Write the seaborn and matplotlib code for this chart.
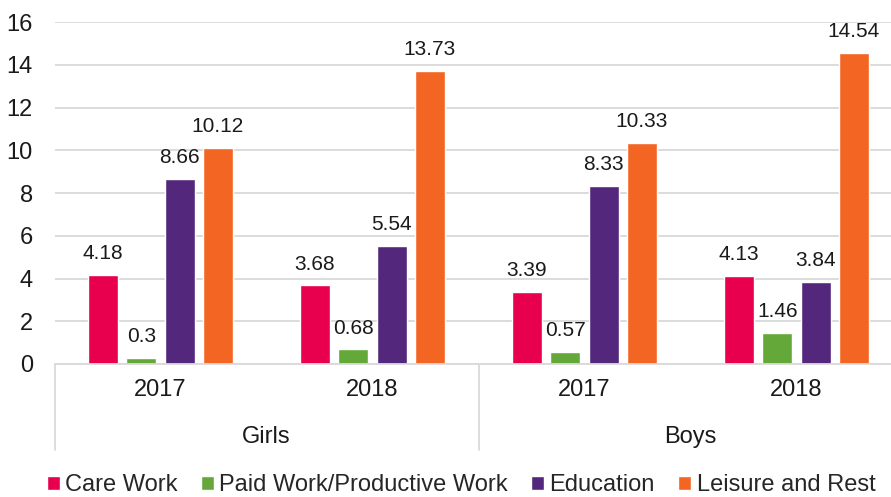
import matplotlib
matplotlib.use("Agg")
import matplotlib.pyplot as plt
import seaborn as sns
import pandas as pd
from matplotlib.lines import Line2D
from matplotlib.patches import Patch

genders = ["Girls", "Boys"]
years = ["2017", "2018"]
activities = ["Care Work", "Paid Work/Productive Work", "Education", "Leisure and Rest"]
care = [4.18, 3.68, 3.39, 4.13]
paid = [0.3, 0.68, 0.57, 1.46]
education = [8.66, 5.54, 8.33, 3.84]
leisure = [10.12, 13.73, 10.33, 14.54]
colors = ["#E8004F", "#63A838", "#53287C", "#F26522"]

groups = [f"{g}-{y}" for g in genders for y in years]
rows = []
for name, vals in zip(activities, [care, paid, education, leisure]):
    for grp, v in zip(groups, vals):
        rows.append({"group": grp, "activity": name, "value": v})
df = pd.DataFrame(rows)

sns.set_theme(style="white")
plt.rcParams["font.family"] = ["Liberation Sans", "DejaVu Sans"]

W, H = 891, 497
fig = plt.figure(figsize=(W/100, H/100), dpi=100)
ax_left, ax_right = 54.5, 902.5
ax = fig.add_axes([ax_left/W, 1-364/H, (ax_right-ax_left)/W, (364-22)/H])

sns.barplot(data=df, x="group", y="value", hue="activity", order=groups,
            hue_order=activities, palette=colors, width=0.723, gap=0.22,
            ax=ax, legend=False, saturation=1)

for cont in ax.containers:
    ax.bar_label(cont, labels=[f"{v:g}" for v in cont.datavalues],
                 padding=8.5, fontsize=15, color="#1a1a1a")

FS = 17
ax.set_ylim(0, 16)
ax.set_yticks(range(0, 17, 2))
ax.set_xlim(-0.5, 3.5)
ax.yaxis.grid(True, color="#D9D9D9", linewidth=1.3)
ax.set_axisbelow(True)
for s in ["top", "right", "left"]:
    ax.spines[s].set_visible(False)
ax.spines["bottom"].set_color("#D9D9D9")
ax.spines["bottom"].set_linewidth(1.3)
ax.tick_params(axis="y", length=0, labelsize=FS, pad=15.5, labelcolor="#1a1a1a")
ax.tick_params(axis="x", length=0, labelsize=FS, pad=11, labelcolor="#1a1a1a")
ax.set_xticks(range(4))
ax.set_xticklabels([y for g in genders for y in years])
ax.set_xlabel("")
ax.set_ylabel("")

# group separators and gender labels
trans = ax.get_xaxis_transform()
ph = 364 - 22
for xpos in [-0.5, 1.5, 3.5]:
    ax.add_line(Line2D([xpos, xpos], [0, -86/ph], transform=trans,
                       color="#D9D9D9", linewidth=1.3, clip_on=False))
for i, g in enumerate(genders):
    ax.text(0.5 + 2*i, -73/ph, g, transform=trans, ha="center", va="center",
            fontsize=FS, color="#1a1a1a")

handles = [Patch(facecolor=c, label=a) for c, a in zip(colors, activities)]
fig.legend(handles=handles, loc="center", bbox_to_anchor=(461/W, 1-485/H),
           ncol=4, frameon=False, fontsize=FS, handlelength=0.55, handleheight=0.55,
           handletextpad=0.22, columnspacing=1.0, borderaxespad=0)

fig.savefig("out.png", dpi=100)
